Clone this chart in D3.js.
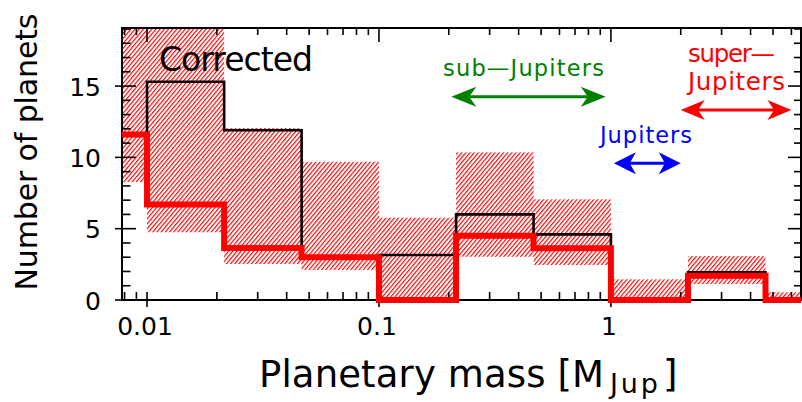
<!DOCTYPE html>
<html>
<head>
<meta charset="utf-8">
<script src="https://cdn.jsdelivr.net/npm/d3@7"></script>
<style>
  body { margin: 0; background: #fff; }
  svg { display: block; }
  text { font-family: "DejaVu Sans", "Liberation Sans", sans-serif; }
</style>
</head>
<body>
<svg id="chart" width="802" height="402"></svg>
<script>
// Mass bins (1/3 dex wide), in Jupiter masses
const binEdges = [0.00464, 0.01, 0.0215, 0.0464, 0.1, 0.215, 0.464, 1, 2.15, 4.64, 10];
// Raw counts per bin
const observed  = [11.6, 15.3, 11.9, 3.0, 3.15, 6.0, 4.6, 0, 1.94, 0];
// Completeness-corrected counts per bin
const corrected = [11.6, 6.7, 3.65, 3.0, 0, 4.5, 3.62, 0, 1.7, 0];
// Uncertainty band on the corrected counts
const bandLow   = [8.27, 4.75, 2.52, 2.1, 0, 3.03, 2.45, 0, 1.12, 0];
const bandHigh  = [20, 20, 12.06, 9.69, 5.77, 10.35, 7.06, 1.45, 3.08, 0.54];

const yTickValues = [0, 5, 10, 15];
const xTickValues = [0.01, 0.1, 1];
const xTickLabels = ["0.01", "0.1", "1"];

// Planet classes shown as mass ranges
const classNames  = ["sub—Jupiters", "Jupiters", "super—Jupiters"];
const classFrom   = [0.205, 1.03, 2.0];
const classTo     = [0.95, 2.0, 6.0];
const classColors = ["#008000", "#0000ff", "#ff0000"];

const W = 802, H = 402;
const plot = { left: 122, right: 801, top: 28, bottom: 300 };

const x = d3.scaleLog().domain([0.0078, 6.6]).range([plot.left, plot.right]);
const y = d3.scaleLinear().domain([0, 19.07]).range([plot.bottom, plot.top]);

const svg = d3.select("#chart");
const defs = svg.append("defs");

const hatch = defs.append("pattern")
  .attr("id", "hatch")
  .attr("patternUnits", "userSpaceOnUse")
  .attr("width", 3.2).attr("height", 3.2)
  .attr("patternTransform", "rotate(40)");
hatch.append("rect").attr("x", 0).attr("y", 0).attr("width", 1.15).attr("height", 3.2).attr("fill", "#ff0000");

defs.append("clipPath").attr("id", "plotClip")
  .append("rect")
  .attr("x", plot.left).attr("y", plot.top)
  .attr("width", plot.right - plot.left).attr("height", plot.bottom - plot.top);
defs.append("clipPath").attr("id", "lineClip")
  .append("rect")
  .attr("x", plot.left).attr("y", plot.top)
  .attr("width", plot.right - plot.left).attr("height", plot.bottom - plot.top + 10);

// Uncertainty band
const bins = d3.range(corrected.length).map(i => ({
  x0: binEdges[i], x1: binEdges[i + 1],
  lo: bandLow[i], hi: bandHigh[i]
}));
svg.append("g").attr("clip-path", "url(#plotClip)")
  .selectAll("rect").data(bins).join("rect")
  .attr("x", d => x(d.x0))
  .attr("width", d => x(d.x1) - x(d.x0))
  .attr("y", d => y(d.hi))
  .attr("height", d => y(d.lo) - y(d.hi))
  .attr("fill", "url(#hatch)");

// Axes frame and ticks
const axes = svg.append("g").attr("stroke", "#000").attr("fill", "none");
axes.append("rect")
  .attr("x", plot.left).attr("y", plot.top)
  .attr("width", plot.right - plot.left).attr("height", plot.bottom - plot.top)
  .attr("stroke-width", 2);

const xAll = x.ticks();
const isMajor = v => Math.abs(Math.log10(v) - Math.round(Math.log10(v))) < 1e-6;
xAll.forEach(v => {
  const px = x(v);
  if (px <= plot.left + 0.5 || px >= plot.right - 0.5) return;
  const major = isMajor(v);
  // bottom
  axes.append("line").attr("x1", px).attr("x2", px)
    .attr("y1", plot.bottom - 8).attr("y2", plot.bottom + (major ? 7 : 0))
    .attr("stroke-width", 1.6);
  // top
  axes.append("line").attr("x1", px).attr("x2", px)
    .attr("y1", plot.top).attr("y2", plot.top + (major ? 14 : 7))
    .attr("stroke-width", 1.6);
});

d3.range(0, 20).forEach(v => {
  const py = y(v);
  if (py < plot.top + 0.5) return;
  const major = v % 5 === 0;
  axes.append("line")
    .attr("x1", plot.left - (major ? 7 : 0)).attr("x2", plot.left + (major ? 14 : 8.5))
    .attr("y1", py).attr("y2", py).attr("stroke-width", 1.6);
  axes.append("line")
    .attr("x1", plot.right - (major ? 13 : 7)).attr("x2", plot.right)
    .attr("y1", py).attr("y2", py).attr("stroke-width", 1.6);
});

// Tick labels
svg.append("g").selectAll("text").data(yTickValues).join("text")
  .attr("x", 101).attr("y", d => y(d) + 9.5)
  .attr("text-anchor", "end").attr("font-size", 25).attr("fill", "#000")
  .text(d => d);

svg.append("g").selectAll("text").data(xTickValues).join("text")
  .attr("x", d => x(d) - 2).attr("y", 335)
  .attr("text-anchor", "middle").attr("font-size", 25).attr("fill", "#000")
  .text((d, i) => xTickLabels[i]);

// Step histograms
const stepPoints = vals => vals.map((v, i) => [binEdges[i], v]).concat([[binEdges[vals.length], vals[vals.length - 1]]]);
const step = d3.line().x(d => x(d[0])).y(d => y(d[1])).curve(d3.curveStepAfter);

const lines = svg.append("g").attr("clip-path", "url(#lineClip)").attr("fill", "none");
lines.append("path").attr("d", step(stepPoints(observed)))
  .attr("stroke", "#000").attr("stroke-width", 2.6);
lines.append("path").attr("d", step(stepPoints(corrected)))
  .attr("stroke", "#ff0000").attr("stroke-width", 6);

// Class ranges: double-headed arrows with labels
function doubleArrow(g, x1, x2, yy, color, L, Wd) {
  const notch = L * 0.72;
  g.append("line").attr("x1", x1 + notch).attr("x2", x2 - notch)
    .attr("y1", yy).attr("y2", yy).attr("stroke", color).attr("stroke-width", 3);
  const head = (tip, dir) => [
    [tip, yy], [tip + dir * L, yy - Wd], [tip + dir * notch, yy], [tip + dir * L, yy + Wd]
  ];
  [head(x1, 1), head(x2, -1)].forEach(p =>
    g.append("polygon").attr("points", p.map(q => q.join(",")).join(" ")).attr("fill", color));
}

const ann = svg.append("g");
// sub-Jupiters
doubleArrow(ann, x(classFrom[0]), x(classTo[0]), y(14.25), classColors[0], 25, 10);
ann.append("text").attr("x", 443).attr("y", 76).attr("font-size", 22.5)
  .attr("fill", classColors[0]).attr("textLength", 161).attr("lengthAdjust", "spacing")
  .text(classNames[0]);
// Jupiters
doubleArrow(ann, x(classFrom[1]), x(classTo[1]), y(9.58), classColors[1], 22, 11);
ann.append("text").attr("x", 600).attr("y", 143).attr("font-size", 22.5)
  .attr("fill", classColors[1]).attr("textLength", 92).attr("lengthAdjust", "spacing")
  .text(classNames[1]);
// super-Jupiters (two lines)
doubleArrow(ann, x(classFrom[2]), x(classTo[2]), y(13.32), classColors[2], 24, 10);
const superParts = classNames[2].split("—");
ann.append("text").attr("x", 688).attr("y", 62).attr("font-size", 24.5)
  .attr("fill", classColors[2]).attr("textLength", 87).attr("lengthAdjust", "spacing")
  .text(superParts[0] + "—");
ann.append("text").attr("x", 688).attr("y", 90).attr("font-size", 24.5)
  .attr("fill", classColors[2]).attr("textLength", 97).attr("lengthAdjust", "spacing")
  .text(superParts[1]);

// Panel label
svg.append("text").attr("x", 159).attr("y", 70.5).attr("font-size", 33)
  .attr("fill", "#000").attr("textLength", 154).attr("lengthAdjust", "spacing")
  .text("Corrected");

// Axis titles
svg.append("text")
  .attr("transform", "translate(37,152) rotate(-90)")
  .attr("text-anchor", "middle").attr("font-size", 30).attr("fill", "#000")
  .attr("textLength", 277).attr("lengthAdjust", "spacing")
  .text("Number of planets");

svg.append("text").attr("x", 259).attr("y", 387).attr("font-size", 37).attr("fill", "#000")
  .attr("textLength", 345).attr("lengthAdjust", "spacing")
  .text("Planetary mass [M");
svg.append("text").attr("x", 610).attr("y", 393).attr("font-size", 27).attr("fill", "#000")
  .attr("textLength", 48).attr("lengthAdjust", "spacing")
  .text("Jup");
svg.append("text").attr("x", 663).attr("y", 387).attr("font-size", 37).attr("fill", "#000")
  .text("]");
</script>
</body>
</html>
